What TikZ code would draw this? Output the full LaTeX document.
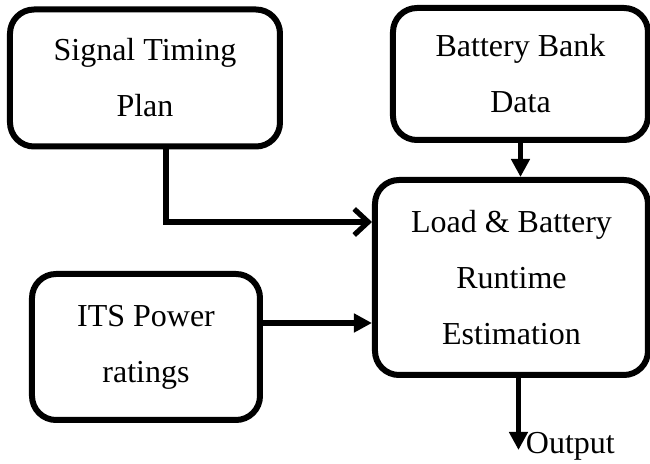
\documentclass[tikz,border=0pt]{standalone}
\usepackage{fontspec}
\setmainfont{Liberation Serif}
\usetikzlibrary{positioning, arrows.meta}

\begin{document}
\begin{tikzpicture}[x=0.5pt, y=-0.5pt,
    font=\fontsize{16}{28}\selectfont,
    block/.style={rectangle, draw=black, fill=white,
                  rounded corners=12pt, line width=3pt,
                  align=center, inner sep=0pt},
    flow/.style={-{Triangle[length=9pt, width=9pt]}, line width=2.6pt},
    flowopen/.style={-{Straight Barb[length=7pt, width=13pt, line width=2.6pt]}, line width=2.6pt},
]
\useasboundingbox (0,0) rectangle (650,464);

% ─── Input blocks ───────────────────────────────────────────────
\node[block, minimum width=135pt, minimum height=68.5pt] (signal) at (145, 78)
  {Signal Timing\\Plan};
\node[block, minimum width=127.5pt, minimum height=66pt] (battery) at (520.5, 74)
  {Battery Bank\\Data};
\node[block, minimum width=114pt, minimum height=73pt] (its) at (146, 347)
  {ITS Power\\ratings};

% ─── Estimation block ───────────────────────────────────────────
\node[block, minimum width=136.5pt, minimum height=97.5pt] (load) at (511.5, 277.5)
  {Load \& Battery\\Runtime\\Estimation};

% ─── Connectors ─────────────────────────────────────────────────
\draw[flowopen] ([xshift=10.5pt]signal.south) |- ([yshift=27.75pt]load.west);
\draw[flow] (battery.south) -- (battery.south |- load.north);
\draw[flow] ([yshift=12pt]its.east) -- ([yshift=12pt]its.east -| load.west);

\coordinate (out) at ([xshift=3.5pt, yshift=-36pt]load.south);
\draw[flow] ([xshift=3.5pt]load.south) -- (out);
\node[anchor=west, inner sep=1pt] (outlabel) at ([xshift=2.5pt, yshift=2pt]out) {Output};

\end{tikzpicture}
\end{document}
